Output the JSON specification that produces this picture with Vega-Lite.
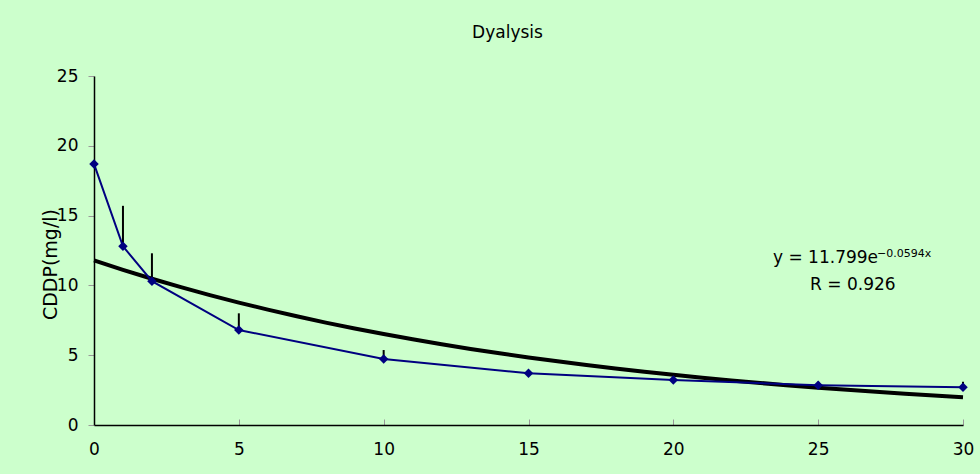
{
  "$schema": "https://vega.github.io/schema/vega-lite/v6.json",
  "width": 869,
  "height": 349,
  "autosize": "none",
  "padding": {"left": 94, "top": 76, "right": 17, "bottom": 49},
  "background": "#CCFFCC",
  "config": {"view": {"stroke": null}, "font": "DejaVu Sans"},
  "title": {"text": "Dyalysis", "font": "DejaVu Sans", "fontSize": 17, "fontWeight": "normal", "color": "black", "anchor": "middle", "frame": "group", "dx": -21, "baseline": "alphabetic", "offset": 12},
  "datasets": {
    "obs": [
      {"x": 0, "y": 18.7, "upper": 18.7},
      {"x": 1, "y": 12.8, "upper": 15.7},
      {"x": 2, "y": 10.3, "upper": 12.3},
      {"x": 5, "y": 6.8, "upper": 8.0},
      {"x": 10, "y": 4.73, "upper": 5.37},
      {"x": 15, "y": 3.7, "upper": 3.85},
      {"x": 20, "y": 3.22, "upper": 3.35},
      {"x": 25, "y": 2.85, "upper": 3.1},
      {"x": 30, "y": 2.7, "upper": 3.1}
    ],
    "fit": [
      {"x": 0, "y": 11.799}, {"x": 1, "y": 11.1186}, {"x": 2, "y": 10.4774}, {"x": 3, "y": 9.8732},
      {"x": 4, "y": 9.3038}, {"x": 5, "y": 8.7673}, {"x": 6, "y": 8.2617}, {"x": 7, "y": 7.7852},
      {"x": 8, "y": 7.3363}, {"x": 9, "y": 6.9132}, {"x": 10, "y": 6.5145}, {"x": 11, "y": 6.1388},
      {"x": 12, "y": 5.7848}, {"x": 13, "y": 5.4512}, {"x": 14, "y": 5.1368}, {"x": 15, "y": 4.8406},
      {"x": 16, "y": 4.5614}, {"x": 17, "y": 4.2984}, {"x": 18, "y": 4.0505}, {"x": 19, "y": 3.8169},
      {"x": 20, "y": 3.5968}, {"x": 21, "y": 3.3895}, {"x": 22, "y": 3.194}, {"x": 23, "y": 3.0098},
      {"x": 24, "y": 2.8362}, {"x": 25, "y": 2.6727}, {"x": 26, "y": 2.5185}, {"x": 27, "y": 2.3733},
      {"x": 28, "y": 2.2364}, {"x": 29, "y": 2.1074}, {"x": 30, "y": 1.9859}
    ],
    "eq1": [{"t": "y = 11.799e"}],
    "eq2": [{"t": "−0.0594x"}],
    "eq3": [{"t": "R = 0.926"}]
  },
  "layer": [
    {
      "data": {"name": "fit"},
      "mark": {"type": "line", "color": "black", "strokeWidth": 4, "interpolate": "monotone"},
      "encoding": {
        "x": {
          "field": "x", "type": "quantitative",
          "scale": {"domain": [0, 30], "nice": false, "zero": false},
          "axis": {
            "values": [0, 5, 10, 15, 20, 25, 30], "format": "d", "grid": false, "title": null,
            "domainColor": "black", "domainWidth": 1.5, "tickColor": "#999999", "tickSize": -6, "tickWidth": 1,
            "labelFont": "DejaVu Sans", "labelFontSize": 17, "labelColor": "black", "labelPadding": 22,
            "labelFlush": false
          }
        },
        "y": {
          "field": "y", "type": "quantitative",
          "scale": {"domain": [0, 25], "nice": false},
          "axis": {
            "values": [0, 5, 10, 15, 20, 25], "format": "d", "grid": false,
            "title": "CDDP(mg/l)", "titleFont": "DejaVu Sans", "titleFontSize": 19, "titleFontWeight": "normal",
            "titleColor": "black", "titleX": -44, "titleY": 188, "titleBaseline": "middle", "titleAlign": "center", "titleAngle": -90,
            "domainColor": "black", "domainWidth": 1.5, "tickColor": "#999999", "tickSize": 6, "tickWidth": 1,
            "labelFont": "DejaVu Sans", "labelFontSize": 17, "labelColor": "black", "labelPadding": 10,
            "labelFlush": false
          }
        }
      }
    },
    {
      "data": {"name": "obs"},
      "mark": {"type": "line", "color": "#000080", "strokeWidth": 2},
      "encoding": {
        "x": {"field": "x", "type": "quantitative", "axis": {"title": null}},
        "y": {"field": "y", "type": "quantitative", "axis": {"title": "CDDP(mg/l)"}}
      }
    },
    {
      "data": {"name": "obs"},
      "mark": {"type": "rule", "color": "black", "strokeWidth": 2},
      "encoding": {
        "x": {"field": "x", "type": "quantitative", "axis": {"title": null}},
        "y": {"field": "y", "type": "quantitative", "axis": {"title": "CDDP(mg/l)"}},
        "y2": {"field": "upper"}
      }
    },
    {
      "data": {"name": "obs"},
      "mark": {"type": "point", "shape": "diamond", "filled": true, "color": "#000080", "size": 90, "opacity": 1},
      "encoding": {
        "x": {"field": "x", "type": "quantitative", "axis": {"title": null}},
        "y": {"field": "y", "type": "quantitative", "axis": {"title": "CDDP(mg/l)"}}
      }
    },
    {
      "data": {"name": "eq1"},
      "mark": {"type": "text", "align": "left", "baseline": "alphabetic", "font": "DejaVu Sans", "fontSize": 17, "color": "black"},
      "encoding": {"x": {"datum": 23.44, "type": "quantitative"}, "y": {"datum": 11.6, "type": "quantitative"}, "text": {"field": "t"}}
    },
    {
      "data": {"name": "eq2"},
      "mark": {"type": "text", "align": "left", "baseline": "alphabetic", "font": "DejaVu Sans", "fontSize": 11, "color": "black"},
      "encoding": {"x": {"datum": 27.03, "type": "quantitative"}, "y": {"datum": 12.0, "type": "quantitative"}, "text": {"field": "t"}}
    },
    {
      "data": {"name": "eq3"},
      "mark": {"type": "text", "align": "left", "baseline": "alphabetic", "font": "DejaVu Sans", "fontSize": 17, "color": "black"},
      "encoding": {"x": {"datum": 24.72, "type": "quantitative"}, "y": {"datum": 9.67, "type": "quantitative"}, "text": {"field": "t"}}
    }
  ]
}
